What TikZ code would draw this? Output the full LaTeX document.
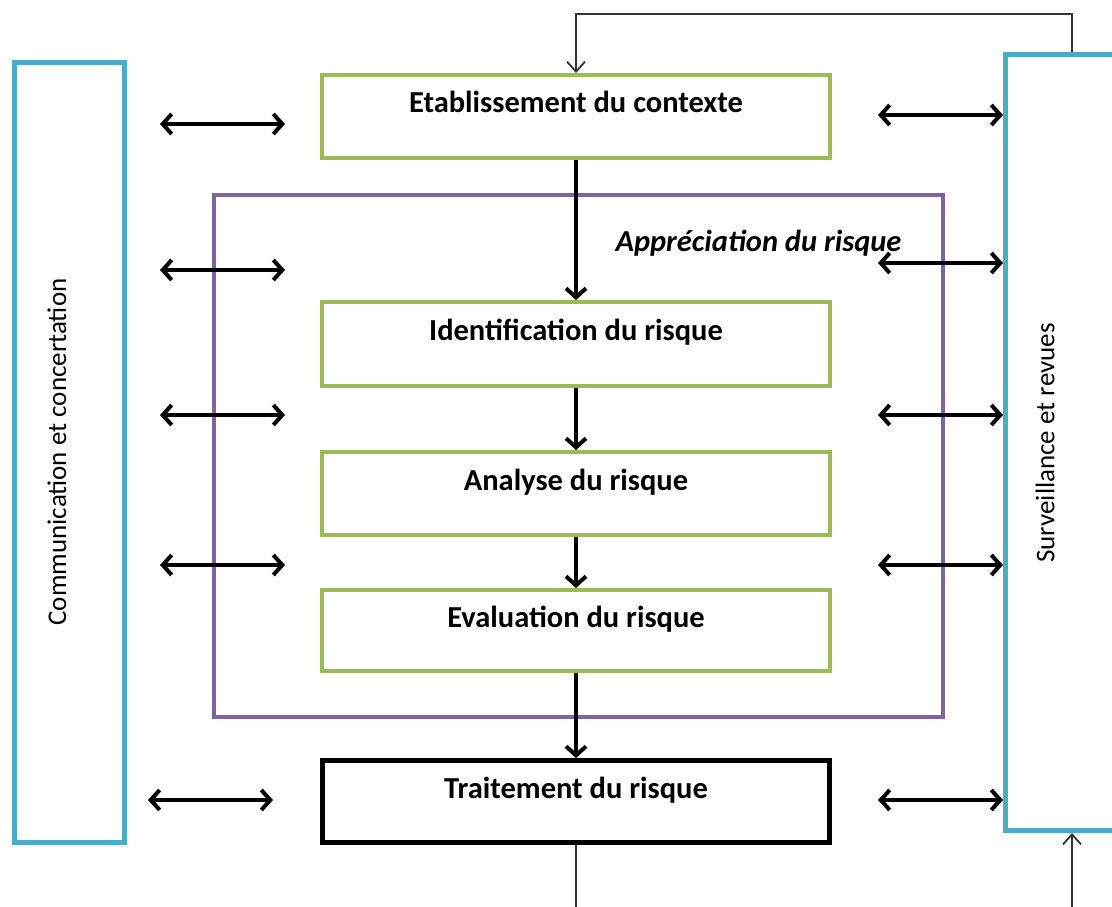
\documentclass[tikz,border=0pt]{standalone}
\usepackage{fontspec}
\setmainfont{Carlito}
\usetikzlibrary{arrows.meta}
\definecolor{stagegreen}{HTML}{9BBB59}
\definecolor{sideblue}{HTML}{4BACC6}
\definecolor{framepurple}{HTML}{8064A2}
\begin{document}
\begin{tikzpicture}[x=1pt,y=-1pt,
  stagebox/.style={draw=stagegreen, line width=4pt, minimum width=508pt, inner sep=0pt,
    font=\fontsize{30.5}{34}\selectfont\bfseries, text height=20pt, text depth=27pt},
  sidebox/.style={draw=sideblue, line width=5pt, inner sep=0pt},
  sidetext/.style={rotate=90, font=\fontsize{27}{30}\selectfont},
  twoway/.style={{Straight Barb[length=9pt,width=20pt]}-{Straight Barb[length=9pt,width=20pt]}, line width=4pt},
  flow/.style={-{Straight Barb[length=9pt,width=20pt]}, line width=4pt},
  loopline/.style={line width=1.8pt, draw=black!80},
  looparrow/.style={loopline, -{Straight Barb[length=10pt,width=18pt,line width=1.8pt]}}]
\clip (0,0) rectangle (1112,907);

% side panels
\node[sidebox, minimum width=110pt, minimum height=780pt] (comm) at (69.5,452.5) {};
\node[sidetext] (commtxt) at (57,452) {Communication et concertation};
\node[sidebox, minimum width=124.5pt, minimum height=776pt] (surv) at (1067.75,442.5) {};
\node[sidetext] (survtxt) at (1045,443) {Surveillance et revues};

% risk assessment frame
\node[draw=framepurple, line width=4pt, minimum width=729pt, minimum height=522pt, inner sep=0pt] (assess) at (578.5,456) {};
\node[anchor=base east, font=\fontsize{30.5}{34}\selectfont\bfseries\itshape] (assesstxt) at (905,251) {Appréciation du risque};

% process stages
\node[stagebox, minimum height=83pt] (etab) at (576,116.5) {Etablissement du contexte};
\node[stagebox, minimum height=84pt] (ident) at (576,344) {Identification du risque};
\node[stagebox, minimum height=83pt] (anal) at (576,493.5) {Analyse du risque};
\node[stagebox, minimum height=81pt] (eval) at (576,630.5) {Evaluation du risque};
\node[stagebox, draw=black, line width=5pt, minimum width=507pt, minimum height=82pt] (trait) at (576,801.5) {Traitement du risque};

% main flow
\draw[flow] (etab) -- (ident);
\draw[flow] (ident) -- (anal);
\draw[flow] (anal) -- (eval);
\draw[flow] (eval) -- (trait);

% exchanges with the side panels
\foreach \y [count=\i] in {124,270,415,565} {
  \coordinate (la\i) at (160,\y);
  \coordinate (lb\i) at (285,\y);
  \draw[twoway] (la\i) -- (lb\i);
}
\coordinate (la5) at (148,800);
\coordinate (lb5) at (273,800);
\draw[twoway] (la5) -- (lb5);
\foreach \y [count=\i] in {115,263,415,565,800} {
  \coordinate (ra\i) at (878,\y);
  \coordinate (rb\i) at (1003,\y);
  \draw[twoway] (ra\i) -- (rb\i);
}

% monitoring loop
\coordinate (looptop) at (1072,14);
\draw[looparrow] (looptop |- surv.north) -- (looptop) -| (etab.north);
\coordinate (loopout) at (576,907);
\draw[loopline] (trait.south) -- (loopout);
\coordinate (loopin) at (1072,907);
\draw[looparrow] (loopin) -- (loopin |- surv.south);
\end{tikzpicture}
\end{document}
